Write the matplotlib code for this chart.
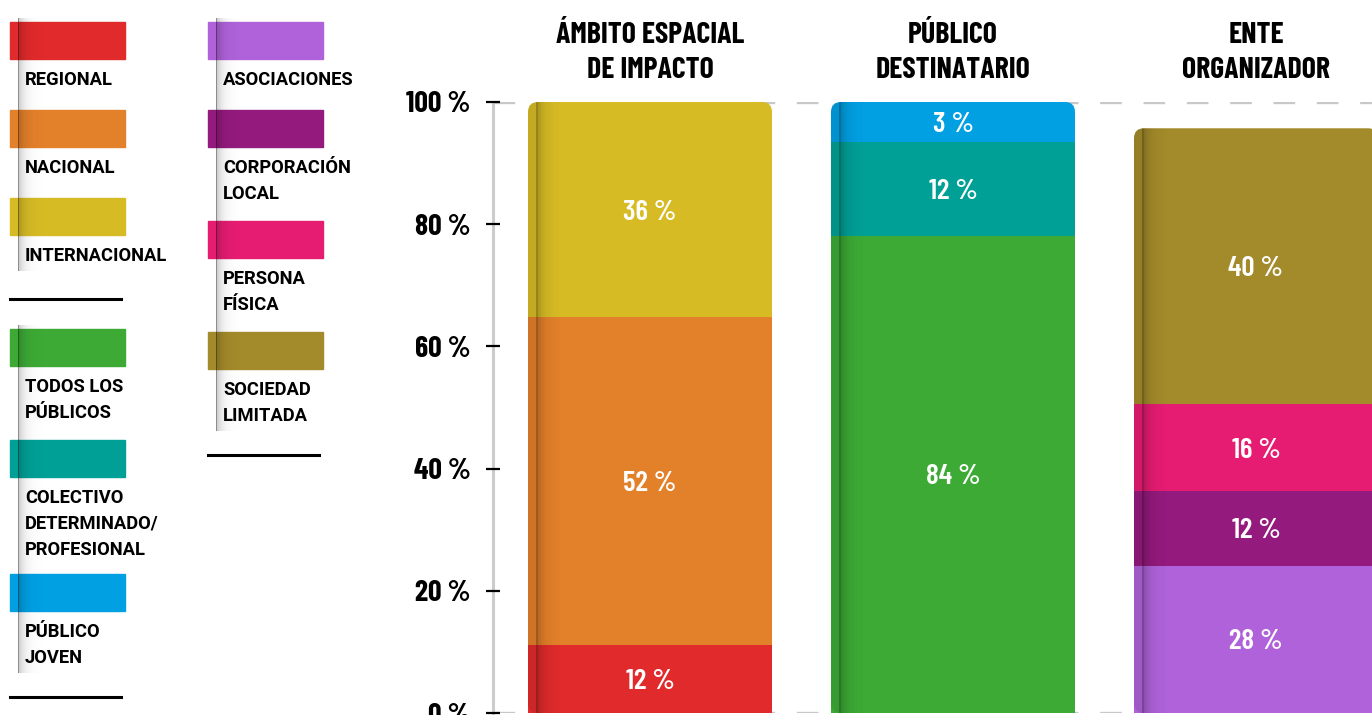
import numpy as np
import matplotlib
matplotlib.use("Agg")
import matplotlib.pyplot as plt
from matplotlib import font_manager as fm
from matplotlib.patches import FancyBboxPatch

# ---- data (heights as drawn, labels as printed) ----
titles = ["ÁMBITO ESPACIAL\nDE IMPACTO", "PÚBLICO\nDESTINATARIO", "ENTE\nORGANIZADOR"]

ambito_names = ["REGIONAL", "NACIONAL", "INTERNACIONAL"]
ambito_heights = [11.1, 53.7, 35.2]
ambito_labels = [12, 52, 36]
ambito_colors = ["#e02a2b", "#e3802a", "#d6bb25"]

publico_names = ["TODOS LOS\nPÚBLICOS", "COLECTIVO\nDETERMINADO/\nPROFESIONAL", "PÚBLICO\nJOVEN"]
publico_heights = [78.1, 15.4, 6.5]
publico_labels = [84, 12, 3]
publico_colors = ["#3caa35", "#00a096", "#00a0e3"]

ente_names = ["ASOCIACIONES", "CORPORACIÓN\nLOCAL", "PERSONA\nFÍSICA", "SOCIEDAD\nLIMITADA"]
ente_heights = [24.1, 12.2, 14.3, 45.1]
ente_labels = [28, 12, 16, 40]
ente_colors = ["#af62d9", "#941a7d", "#e61c72", "#a38b2b"]

yticks = [0, 20, 40, 60, 80, 100]

# ---- fonts ----
names = {f.name for f in fm.fontManager.ttflist}
def pick(*cands):
    for c in cands:
        if c in names:
            return c
    return "DejaVu Sans"
din = pick("Barlow Condensed", "Barlow Semi Condensed", "Roboto")
leg_font = pick("Roboto", "DejaVu Sans")

W, H = 1372, 715
fig = plt.figure(figsize=(W / 100, H / 100), dpi=100)

# overlay axes in pixel coords for the legend
lax = fig.add_axes([0, 0, 1, 1])
lax.set_xlim(0, W)
lax.set_ylim(H, 0)
lax.axis("off")

def shade(axis, x0, x1, y0, y1, profile, z):
    img = np.zeros((1, len(profile), 4))
    img[0, :, 3] = profile
    return axis.imshow(img, extent=(x0, x1, y1, y0), aspect="auto",
                       interpolation="bilinear", zorder=z)

d = np.arange(24)
leg_profile = 0.22 * np.exp(-d / 6.0)
leg_profile[0] = 0.45

def legend_column(x0, groups):
    y = 22
    for names_, colors_ in groups:
        top = y
        last_y, last_n = y, 1
        for name, col in zip(names_, colors_):
            lines = name.split("\n")
            lax.add_patch(plt.Rectangle((x0, y), 115, 37, color=col, zorder=2))
            for i, ln in enumerate(lines):
                lax.text(x0 + 15, y + 56 + 26 * i, ln, fontsize=13.2, fontweight="bold",
                         family=leg_font, va="center_baseline", ha="left", color="black", zorder=4)
            last_y, last_n = y, len(lines)
            y += 88 + 23 * (len(lines) - 1)
        bottom = last_y + 57 + 26 * (last_n - 1) + 16
        shade(lax, x0 + 8, x0 + 8 + len(leg_profile), top - 4, bottom, leg_profile, 3)
        sep = last_y + 101 + 22 * (last_n - 1)
        lax.plot([x0, x0 + 111], [sep, sep], color="black", lw=2.2, zorder=2)
        y = sep + 30

legend_column(10, [(ambito_names, ambito_colors), (publico_names, publico_colors)])
legend_column(208, [(ente_names, ente_colors)])

# ---- main chart ----
px_unit = 303.0
ax_left, ax_bottom, ax_top = 493, 713, 102
px_y = (ax_bottom - ax_top) / 100.0
ax = fig.add_axes([ax_left / W, (H - ax_bottom) / H, (W - ax_left) / W, (ax_bottom - ax_top) / H])
ax.patch.set_alpha(0)
xmin = (ax_left - 650) / px_unit
xmax = xmin + (W - ax_left) / px_unit
bar_w = 244 / px_unit

bars = [(ambito_heights, ambito_labels, ambito_colors),
        (publico_heights, publico_labels, publico_colors),
        (ente_heights, ente_labels, ente_colors)]

for gy in (0, 100):
    ax.axhline(gy, color="#c8c8c8", lw=2.4, dashes=(6.5, 6.5), zorder=1)

bd = np.arange(32)
bar_profile = np.where(bd < 9, 0.09, 0.22 * np.exp(-(bd - 9) / 7.0))
bar_profile[8:10] = 0.3

for i, (heights, labels, colors) in enumerate(bars):
    left = i - bar_w / 2
    total = sum(heights)
    # top segment as a rounded box reaching down to 0, covered by the lower segments
    top_patch = FancyBboxPatch((left, 0), bar_w, total,
                               boxstyle=f"round,pad=0,rounding_size={10 / px_unit}",
                               mutation_aspect=px_unit / px_y,
                               facecolor=colors[-1], linewidth=0, zorder=1.9)
    ax.add_patch(top_patch)
    bottom = 0
    for k, (h, lab, col) in enumerate(zip(heights, labels, colors)):
        if k < len(heights) - 1:
            ax.bar(i, h, bottom=bottom, width=bar_w, color=col, zorder=2, linewidth=0)
        ax.text(i, bottom + h / 2, f"{lab} %", color="white", fontsize=21, family=din,
                fontweight="semibold", ha="center", va="center_baseline", zorder=4)
        bottom += h
    im = shade(ax, left, left + len(bar_profile) / px_unit, 0, total, bar_profile, 3)
    im.set_clip_path(top_patch)
    ax.text(i, 108.0, titles[i], ha="center", va="center", fontsize=21.5, family=din,
            fontweight="bold", linespacing=1.36, color="black", clip_on=False)

ax.set_xlim(xmin, xmax)
ax.set_ylim(0, 100)
ax.set_yticks(yticks)
ax.set_yticklabels([f"{t} %" for t in yticks], family=din, fontweight="bold", fontsize=21.5)
ax.set_xticks([])
ax.tick_params(axis="y", direction="inout", length=10, width=1.6, color="black", pad=11)
for s in ("top", "right", "bottom"):
    ax.spines[s].set_visible(False)
ax.spines["left"].set_color("#cccccc")
ax.spines["left"].set_linewidth(2.2)
ax.spines["left"].set_zorder(0.5)

fig.savefig("out.png", dpi=100)
